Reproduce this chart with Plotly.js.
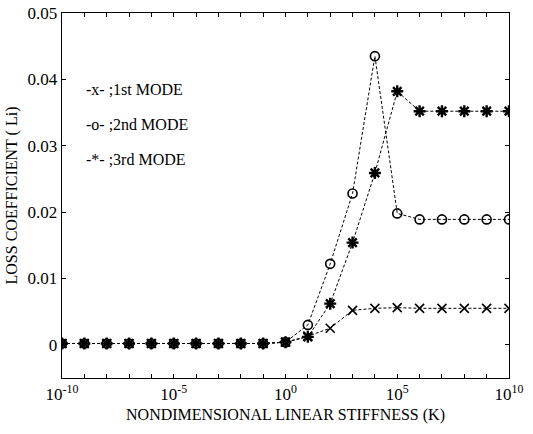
<!DOCTYPE html>
<html>
<head>
<meta charset="utf-8">
<script src="https://cdn.plot.ly/plotly-3.0.1.min.js"></script>
<style>html,body{margin:0;padding:0;background:#fff;}#chart{width:533px;height:434px;}</style>
</head>
<body>
<div id="chart"></div>
<script>
// Data
var stiffness = [1e-10,1e-9,1e-8,1e-7,1e-6,1e-5,1e-4,1e-3,1e-2,1e-1,1e0,1e1,1e2,1e3,1e4,1e5,1e6,1e7,1e8,1e9,1e10];
var mode1 = [0.0002,0.0002,0.0002,0.0002,0.0002,0.0002,0.0002,0.0002,0.0002,0.0002,0.0004,0.0013,0.0025,0.0052,0.0055,0.0056,0.0055,0.0055,0.0055,0.0055,0.0055];
var mode2 = [0.0002,0.0002,0.0002,0.0002,0.0002,0.0002,0.0002,0.0002,0.0002,0.0002,0.0004,0.0030,0.0122,0.0228,0.0435,0.0198,0.0189,0.0189,0.0189,0.0189,0.0189];
var mode3 = [0.0002,0.0002,0.0002,0.0002,0.0002,0.0002,0.0002,0.0002,0.0002,0.0002,0.0004,0.0012,0.0062,0.0154,0.0259,0.0382,0.0352,0.0352,0.0352,0.0352,0.0352];
var legendLines = ["-x- ;1st MODE", "-o- ;2nd MODE", "-*- ;3rd MODE"];
var xTickVals = [1e-10,1e-9,1e-8,1e-7,1e-6,1e-5,1e-4,1e-3,1e-2,1e-1,1e0,1e1,1e2,1e3,1e4,1e5,1e6,1e7,1e8,1e9,1e10];
var xTickText = ["10<sup>-10</sup>","","","","","10<sup>-5</sup>","","","","","10<sup>0</sup>","","","","","10<sup>5</sup>","","","","","10<sup>10</sup>"];
var yTickVals = [0,0.01,0.02,0.03,0.04,0.05];
var yTickText = ["0","0.01","0.02","0.03","0.04","0.05"];

var font = "Liberation Serif, Times New Roman, serif";
var lineStyle = {color:"#000", width:1, dash:"3px,2px"};

var traces = [
  {x:stiffness, y:mode1, mode:"lines+markers", line:lineStyle,
   marker:{symbol:"x-thin-open", size:9, color:"#000", line:{color:"#000", width:1.6}}},
  {x:stiffness, y:mode2, mode:"lines+markers", line:lineStyle,
   marker:{symbol:"circle-open", size:9, color:"#000", line:{color:"#000", width:1.6}}},
  {x:stiffness, y:mode3, mode:"lines+markers", line:lineStyle,
   marker:{symbol:"asterisk-open", size:10, color:"#000", line:{color:"#000", width:2.4}}}
];

var annotations = legendLines.map(function(t, i){
  return {xref:"paper", yref:"paper", x:0.05, y:[0.79,0.695,0.598][i], xanchor:"left", yanchor:"middle",
          text:t, showarrow:false, font:{family:font, size:16, color:"#000"}};
});

var layout = {
  width:533, height:434,
  margin:{l:62, r:24, t:13, b:56},
  paper_bgcolor:"#fff", plot_bgcolor:"#fff",
  showlegend:false,
  font:{family:font, size:16, color:"#000"},
  xaxis:{type:"log", range:[-10,10], tickmode:"array", tickvals:xTickVals, ticktext:xTickText,
         ticks:"inside", ticklen:4, tickcolor:"#000", showline:true, linecolor:"#000", linewidth:1.3,
         mirror:"ticks", showgrid:false, zeroline:false,
         tickfont:{family:font, size:17, color:"#000"},
         title:{text:"NONDIMENSIONAL LINEAR STIFFNESS (K)", font:{family:font, size:16, color:"#000"}, standoff:6}},
  yaxis:{range:[-0.005,0.05], tickmode:"array", tickvals:yTickVals, ticktext:yTickText,
         ticks:"inside", ticklen:4, tickcolor:"#000", showline:true, linecolor:"#000", linewidth:1.3,
         mirror:"ticks", showgrid:false, zeroline:false,
         tickfont:{family:font, size:17, color:"#000"},
         title:{text:"LOSS COEFFICIENT ( Li)", font:{family:font, size:16, color:"#000"}, standoff:6}},
  annotations:annotations
};

Plotly.newPlot("chart", traces, layout, {displayModeBar:false, staticPlot:true});
</script>
</body>
</html>
